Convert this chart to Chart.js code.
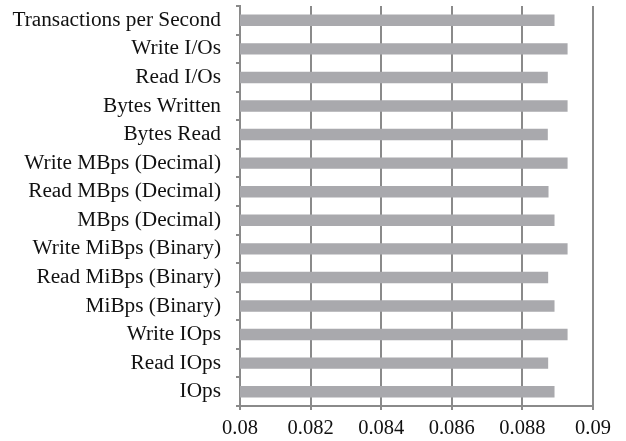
<!DOCTYPE html>
<html><head><meta charset="utf-8">
<script src="https://cdn.jsdelivr.net/npm/chart.js@4"></script>
<style>html,body{margin:0;padding:0;background:#fff}#wrap{width:626px;height:441px}</style>
</head><body><div id="wrap"><canvas id="c" width="626" height="441"></canvas></div>
<script>
const categories = ["Transactions per Second","Write I/Os","Read I/Os","Bytes Written","Bytes Read","Write MBps (Decimal)","Read MBps (Decimal)","MBps (Decimal)","Write MiBps (Binary)","Read MiBps (Binary)","MiBps (Binary)","Write IOps","Read IOps","IOps"];
const values = [0.08891,0.08928,0.08872,0.08928,0.08872,0.08928,0.08874,0.08891,0.08928,0.08873,0.08891,0.08928,0.08873,0.08891];
const xMin = 0.08, xMax = 0.09, xStep = 0.002;

new Chart(document.getElementById('c'), {
  type: 'bar',
  data: { labels: categories, datasets: [{ data: values, backgroundColor: '#A9A9AD', barPercentage: 0.4, categoryPercentage: 1.0 }] },
  options: {
    indexAxis: 'y', responsive: false, animation: false, devicePixelRatio: 1,
    layout: { padding: { left: 0, right: 33, top: 6, bottom: 0 } },
    plugins: { legend: { display: false }, tooltip: { enabled: false } },
    scales: {
      x: {
        min: xMin, max: xMax,
        ticks: { stepSize: xStep, color: '#111', font: { family: 'Liberation Serif', size: 20.5 }, padding: 6, maxRotation: 0,
          callback: v => parseFloat(v.toFixed(3)).toString() },
        grid: { color: '#8a8a8a', lineWidth: 2, tickLength: 4, drawTicks: true },
        border: { color: '#8a8a8a', width: 2 },
        afterFit: s => { s.height = 35; s.paddingLeft = 0; s.paddingRight = 0; }
      },
      y: {
        ticks: { color: '#111', font: { family: 'Liberation Serif', size: 21.3 }, padding: 15, autoSkip: false },
        grid: { drawOnChartArea: false, color: '#8a8a8a', lineWidth: 2, tickLength: 4, offset: true },
        border: { color: '#8a8a8a', width: 2 },
        afterFit: s => { s.width = 240; s.paddingTop = 0; s.paddingBottom = 0; }
      }
    }
  }
});
</script></body></html>
